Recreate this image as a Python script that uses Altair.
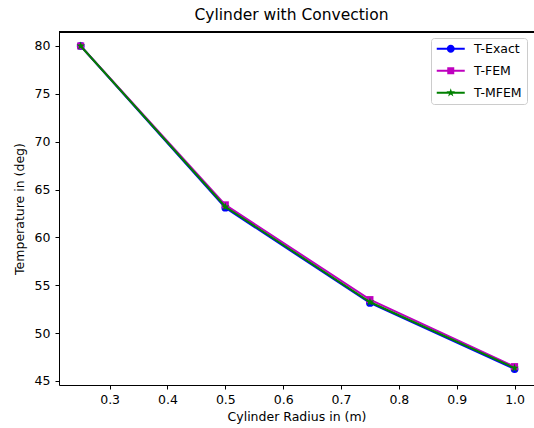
import altair as alt
import pandas as pd

# ---- data ----
radius = [0.25, 0.5, 0.75, 1.0]
t_exact = [80.0, 63.1, 53.15, 46.25]
t_fem = [80.0, 63.4, 53.5, 46.5]
t_mfem = [80.0, 63.2, 53.25, 46.35]
series_names = ["T-Exact", "T-FEM", "T-MFEM"]
series_colors = ["#0000ff", "#bf00bf", "#008000"]
x_ticks = [0.3, 0.4, 0.5, 0.6, 0.7, 0.8, 0.9, 1.0]
y_ticks = [45, 50, 55, 60, 65, 70, 75, 80]

rows = []
for name, vals in zip(series_names, [t_exact, t_fem, t_mfem]):
    for r, v in zip(radius, vals):
        rows.append({"series": name, "radius": r, "temp": v})
df = pd.DataFrame(rows)

# ---- marker shapes ----
def star(cx, r_out, r_in):
    import math
    pts = []
    for k in range(10):
        ang = math.radians(-90 + 36 * k)
        r = r_out if k % 2 == 0 else r_in
        pts.append((cx + r * math.cos(ang), r * math.sin(ang)))
    return "M" + "L".join(f"{x:.3f},{y:.3f}" for x, y in pts) + "Z"

STAR_PLOT = star(0, 1.0, 0.382)
plot_shapes = ["circle", "square", STAR_PLOT]
plot_sizes = [60, 50, 81]

# legend glyphs: a line segment with the marker in the middle (unit = 5px)
LINE = "M-1,-0.2H4.6V0.2H-1Z"
leg_circle = LINE + " M1.0,0A0.8,0.8,0,1,1,2.6,0A0.8,0.8,0,1,1,1.0,0Z"
leg_square = LINE + " M1.1,-0.7H2.5V0.7H1.1Z"
leg_star = LINE + " " + star(1.8, 0.9, 0.344)
legend_shapes = [leg_circle, leg_square, leg_star]

xscale = alt.Scale(domain=[0.2125, 1.0336], nice=False, zero=False)
yscale = alt.Scale(domain=[44.58, 81.46], nice=False, zero=False)

AX = dict(labelFont="DejaVu Sans", titleFont="DejaVu Sans", labelFontSize=12.5, titleFontSize=12.5,
          labelColor="black", titleColor="black", titleFontWeight="normal",
          domainColor="black", tickColor="black", domainWidth=1, tickWidth=1, grid=False)

xenc = alt.X("radius:Q", scale=xscale,
             axis=alt.Axis(values=x_ticks, format=".1f", title="Cylinder Radius in (m)",
                           tickSize=4, labelPadding=4, titlePadding=5, **AX))
yenc = alt.Y("temp:Q", scale=yscale,
             axis=alt.Axis(values=y_ticks, format="d", title="Temperature in (deg)",
                           tickSize=4, labelPadding=5, titlePadding=8, **AX))

base = alt.Chart(df)
layers = []
for name, col, shp, sz in zip(series_names, series_colors, plot_shapes, plot_sizes):
    sub = base.transform_filter(alt.datum.series == name)
    layers.append(sub.mark_line(color=col, strokeWidth=2).encode(x=xenc, y=yenc))
    layers.append(sub.mark_point(shape=shp, filled=True, color=col, size=sz, opacity=1).encode(x=xenc, y=yenc))

# legend-only layer: its points are pushed out of the clipped plot area
legend_layer = base.mark_point(filled=True, opacity=1, clip=True, yOffset=-3000).encode(
    x=xenc, y=yenc,
    color=alt.Color("series:N", scale=alt.Scale(domain=series_names, range=series_colors),
                    legend=alt.Legend(title=None, orient="none", legendX=372, legendY=6,
                                      symbolSize=100, symbolOpacity=1, labelOffset=26,
                                      labelFontSize=12.5, labelColor="black", labelFont="DejaVu Sans",
                                      padding=4.5, rowPadding=7, fillColor="white",
                                      strokeColor="#cccccc", cornerRadius=3)),
    shape=alt.Shape("series:N", scale=alt.Scale(domain=series_names, range=legend_shapes)),
)

frame_top = alt.Chart(df).mark_rule(color="black", strokeWidth=1).encode(
    x=alt.value(0), x2=alt.value(475), y=alt.value(0))

chart = alt.layer(*layers, legend_layer, frame_top).properties(
    width=475, height=353,
    title=alt.TitleParams("Cylinder with Convection", fontSize=15.5, fontWeight="normal",
                          font="DejaVu Sans", color="black", anchor="middle", dx=-5, offset=8),
    autosize=alt.AutoSizeParams(type="none"),
    padding={"left": 59, "top": 32, "right": 0, "bottom": 43},
    background="white",
).configure_view(stroke=None)

chart.save("out.html", embed_options={"renderer": "svg", "actions": False})
